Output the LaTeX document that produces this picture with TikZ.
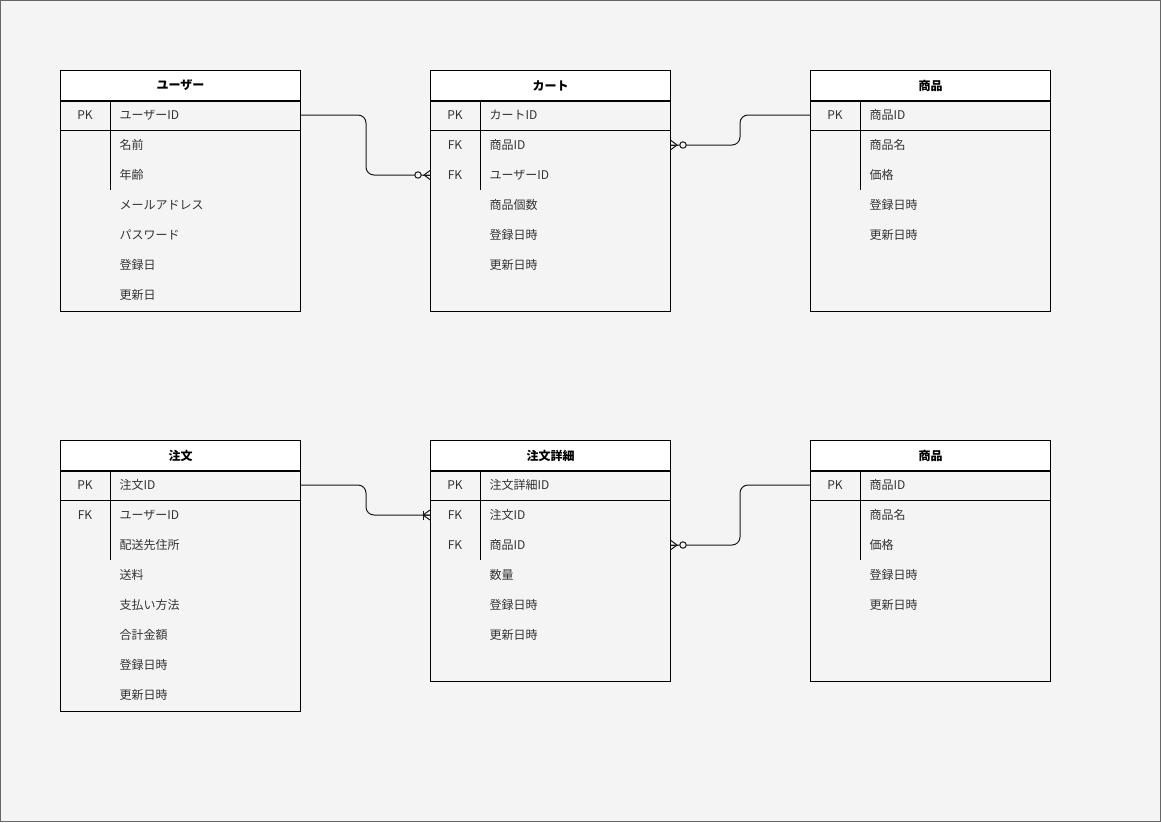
\documentclass[tikz,border=0pt]{standalone}
\usepackage{fontspec}
\setmainfont{Noto Sans CJK JP}
\usepackage{tikz}
\usetikzlibrary{positioning,calc}

\definecolor{canvas}{HTML}{F4F4F4}
\definecolor{frame}{HTML}{666666}
\definecolor{ink}{HTML}{333333}

\tikzset{
  ehead/.style={draw=black, fill=white, minimum width=240pt, minimum height=30pt,
    inner sep=0pt, font=\fontsize{12}{14}\selectfont\bfseries},
  ebody/.style={draw=black, fill=canvas, minimum width=240pt, inner sep=0pt},
  keyl/.style={text=ink, inner sep=0pt, font=\fontsize{12}{14}\selectfont},
  fld/.style={text=ink, anchor=west, inner sep=0pt, font=\fontsize{12}{14}\selectfont},
  rel/.style={draw=black!90, rounded corners=8pt},
  zeromany/.pic={
    \draw[black!90] (0,0) -- (-7,0);
    \draw[black!90] (-6,0) -- (0,4.5) (-6,0) -- (0,-4.5);
    \draw[black!90, fill=canvas] (-12,0) circle [radius=3.2];
  },
  onemany/.pic={
    \draw[black!90] (-7,4.5) -- (-7,-4.5);
    \draw[black!90] (-7,0) -- (0,5) (-7,0) -- (0,-5) (-7,0) -- (0,0);
  }
}

\begin{document}
\begin{tikzpicture}[x=1pt, y=-1pt, line width=1pt]
\fill[canvas] (0,0) rectangle (1161,822);
\draw[frame] (0.5,0.5) rectangle (1160.5,821.5);

% ---- user ----
\node[ehead, anchor=north west] (user) at (60,70) {ユーザー};
\node[ebody, minimum height=210pt, below=0pt of user] (userbody) {};
\draw (60,130) -- (300,130);
\draw (110,100) -- (110,190);
\node[keyl] at (85,115) {PK};
\foreach \f [count=\i from 0] in {ユーザーID,名前,年齢,メールアドレス,パスワード,登録日,更新日}
  \node[fld] (user-\i) at (119,115+30*\i) {\f};

% ---- cart ----
\node[ehead, anchor=north west] (cart) at (430,70) {カート};
\node[ebody, minimum height=210pt, below=0pt of cart] (cartbody) {};
\draw (430,130) -- (670,130);
\draw (480,100) -- (480,190);
\node[keyl] at (455,115) {PK};
\node[keyl] at (455,145) {FK};
\node[keyl] at (455,175) {FK};
\foreach \f [count=\i from 0] in {カートID,商品ID,ユーザーID,商品個数,登録日時,更新日時}
  \node[fld] (cart-\i) at (489,115+30*\i) {\f};

% ---- item (top) ----
\node[ehead, anchor=north west] (item) at (810,70) {商品};
\node[ebody, minimum height=210pt, below=0pt of item] (itembody) {};
\draw (810,130) -- (1050,130);
\draw (860,100) -- (860,190);
\node[keyl] at (835,115) {PK};
\foreach \f [count=\i from 0] in {商品ID,商品名,価格,登録日時,更新日時}
  \node[fld] (item-\i) at (869,115+30*\i) {\f};

% ---- order ----
\node[ehead, anchor=north west] (order) at (60,440) {注文};
\node[ebody, minimum height=240pt, below=0pt of order] (orderbody) {};
\draw (60,500) -- (300,500);
\draw (110,470) -- (110,560);
\node[keyl] at (85,485) {PK};
\node[keyl] at (85,515) {FK};
\foreach \f [count=\i from 0] in {注文ID,ユーザーID,配送先住所,送料,支払い方法,合計金額,登録日時,更新日時}
  \node[fld] (order-\i) at (119,485+30*\i) {\f};

% ---- order detail ----
\node[ehead, anchor=north west] (detail) at (430,440) {注文詳細};
\node[ebody, minimum height=210pt, below=0pt of detail] (detailbody) {};
\draw (430,500) -- (670,500);
\draw (480,470) -- (480,560);
\node[keyl] at (455,485) {PK};
\node[keyl] at (455,515) {FK};
\node[keyl] at (455,545) {FK};
\foreach \f [count=\i from 0] in {注文詳細ID,注文ID,商品ID,数量,登録日時,更新日時}
  \node[fld] (detail-\i) at (489,485+30*\i) {\f};

% ---- item (bottom) ----
\node[ehead, anchor=north west] (item2) at (810,440) {商品};
\node[ebody, minimum height=210pt, below=0pt of item2] (item2body) {};
\draw (810,500) -- (1050,500);
\draw (860,470) -- (860,560);
\node[keyl] at (835,485) {PK};
\foreach \f [count=\i from 0] in {商品ID,商品名,価格,登録日時,更新日時}
  \node[fld] (item2-\i) at (869,485+30*\i) {\f};

% relations
\coordinate (cuid) at (cartbody.west |- cart-2);
\coordinate (citem) at (cartbody.east |- cart-1);
\coordinate (dord) at (detailbody.west |- detail-1);
\coordinate (ditem) at (detailbody.east |- detail-2);
\draw[rel] (userbody.east |- user-0) -- ++(65,0) |- (cuid);
\draw[rel] (itembody.west |- item-0) -- ++(-70,0) |- (citem);
\draw[rel] (orderbody.east |- order-0) -- ++(65,0) |- (dord);
\draw[rel] (item2body.west |- item2-0) -- ++(-70,0) |- (ditem);
\pic at (cuid) {zeromany};
\pic[xscale=-1] at (citem) {zeromany};
\pic at (dord) {onemany};
\pic[xscale=-1] at (ditem) {zeromany};
\end{tikzpicture}
\end{document}
